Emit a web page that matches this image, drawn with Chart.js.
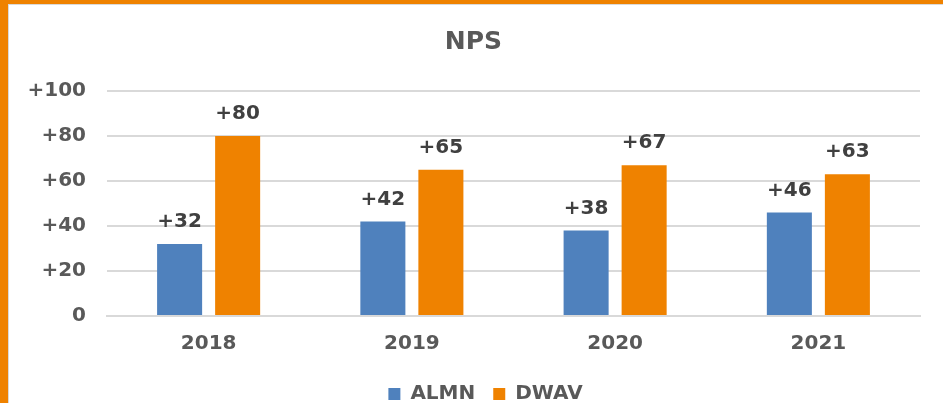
<!DOCTYPE html>
<html>
<head>
<meta charset="utf-8">
<script src="https://cdn.jsdelivr.net/npm/chart.js@4.4.0/dist/chart.umd.min.js"></script>
<style>
  html, body { margin: 0; padding: 0; background: #fff; }
  #frame { position: absolute; left: 0; top: 0; width: 943px; height: 403px; overflow: hidden; background: #fff; }
  #bt { position: absolute; left: 0; top: 0; width: 943px; height: 4px; background: #EF8200; }
  #bl { position: absolute; left: 0; top: 0; width: 8px; height: 403px; background: #EF8200; }
  #it { position: absolute; left: 8px; top: 4px; width: 935px; height: 1px; background: #d9d9d9; }
  #il { position: absolute; left: 8px; top: 4px; width: 1px; height: 399px; background: #d9d9d9; }
  #wrap { position: absolute; left: 9px; top: 5px; width: 934px; height: 398px; }
</style>
</head>
<body>
<div id="frame">
  <div id="bt"></div><div id="bl"></div><div id="it"></div><div id="il"></div>
  <div id="wrap"><canvas id="c" width="934" height="398"></canvas></div>
</div>
<script>
const categories = ['2018', '2019', '2020', '2021'];
const seriesNames = ['ALMN', 'DWAV'];
const almnValues = [32, 42, 38, 46];
const dwavValues = [80, 65, 67, 63];
const yTickValues = [0, 20, 40, 60, 80, 100];
const yTickLabels = ['0', '+20', '+40', '+60', '+80', '+100'];
const chartTitle = 'NPS';

const FONT = "'DejaVu Sans', sans-serif";
const BLUE = '#4F81BD';
const ORANGE = '#EF8200';

const dataLabels = {
  id: 'dataLabels',
  afterDatasetsDraw(chart) {
    const ctx = chart.ctx;
    ctx.save();
    ctx.font = 'bold 20px ' + FONT;
    ctx.fillStyle = '#404040';
    ctx.textAlign = 'center';
    ctx.textBaseline = 'alphabetic';
    chart.data.datasets.forEach((ds, di) => {
      const meta = chart.getDatasetMeta(di);
      meta.data.forEach((bar, i) => {
        const v = ds.data[i];
        ctx.fillText((v > 0 ? '+' : '') + v, bar.x, bar.y - 17);
      });
    });
    ctx.restore();
  }
};

const legendShift = {
  id: 'legendShift',
  afterLayout(chart) {
    if (chart.legend) { chart.legend.left += 12; chart.legend.right += 12; }
  }
};

new Chart(document.getElementById('c'), {
  type: 'bar',
  data: {
    labels: categories,
    datasets: [
      { label: seriesNames[0], data: almnValues, backgroundColor: BLUE, barPercentage: 0.776, categoryPercentage: 0.571 },
      { label: seriesNames[1], data: dwavValues, backgroundColor: ORANGE, barPercentage: 0.776, categoryPercentage: 0.571 }
    ]
  },
  options: {
    responsive: false,
    animation: false,
    layout: { padding: { left: 18, right: 23, top: 0, bottom: -11 } },
    plugins: {
      title: {
        display: true, text: chartTitle, color: '#595959',
        font: { family: FONT, size: 25, weight: 'bold' },
        padding: { top: 22, bottom: 34 }
      },
      legend: {
        position: 'bottom',
        labels: {
          color: '#595959', boxWidth: 12, boxHeight: 12, padding: 18,
          font: { family: FONT, size: 20, weight: 'bold' }
        }
      },
      tooltip: { enabled: false }
    },
    scales: {
      x: {
        grid: { display: false, drawTicks: false },
        border: { display: true, color: '#d9d9d9', width: 2 },
        ticks: { color: '#595959', padding: 16, font: { family: FONT, size: 20, weight: 'bold' } },
        afterFit(scale) { scale.height -= 6; }
      },
      y: {
        min: 0, max: 100,
        afterBuildTicks(scale) { scale.ticks = yTickValues.map(v => ({ value: v })); },
        afterFit(scale) { scale.width = 80; },
        grid: { color: '#d9d9d9', lineWidth: 2, drawTicks: false },
        border: { display: false },
        ticks: {
          color: '#595959', padding: 21,
          font: { family: FONT, size: 20, weight: 'bold' },
          callback(value) { const i = yTickValues.indexOf(value); return i >= 0 ? yTickLabels[i] : ''; }
        }
      }
    }
  },
  plugins: [dataLabels, legendShift]
});
</script>
</body>
</html>
